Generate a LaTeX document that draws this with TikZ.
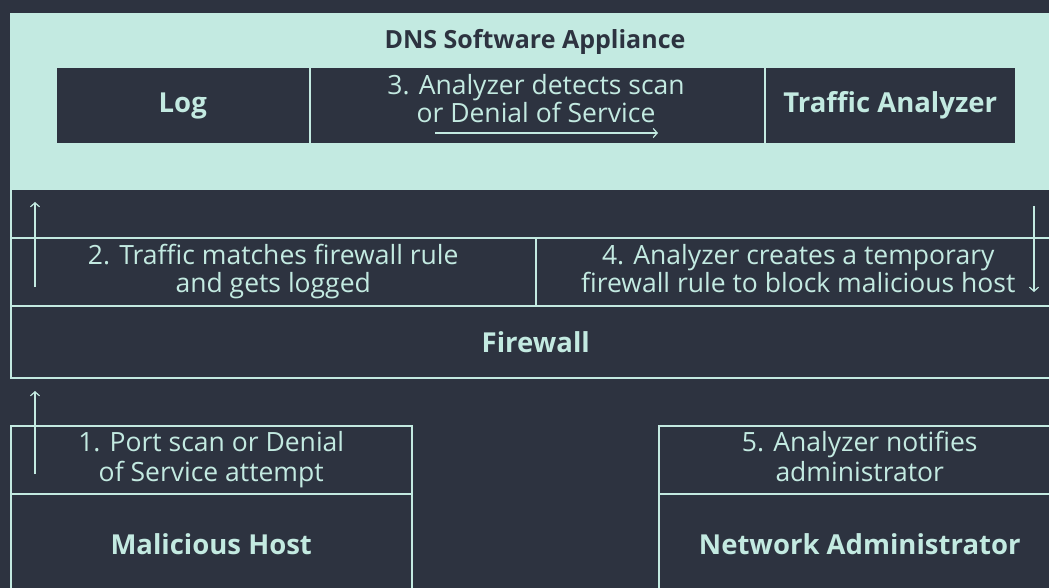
\documentclass[tikz,border=0pt]{standalone}
\usepackage{fontspec}
\setmainfont{Open Sans}
\usetikzlibrary{arrows.meta}
\definecolor{ink}{HTML}{2D3340}
\definecolor{mint}{HTML}{C3EAE1}
\begin{document}
\begin{tikzpicture}[x=1pt,y=-1pt,
  frame/.style={draw=mint, line width=1.5pt, inner sep=0pt, anchor=north west},
  steptext/.style={text=mint, font=\fontsize{26.5}{28.5}\selectfont, align=center},
  nametext/.style={text=mint, font=\fontsize{27.5}{30}\selectfont\bfseries},
  flow/.style={draw=mint, line width=1.2pt, -{Straight Barb[length=4pt,width=9pt]}}]
\useasboundingbox (0,0) rectangle (1049,588);
\fill[ink] (0,0) rectangle (1049,588);
\clip (0,0) rectangle (1049,588);

% DNS software appliance with its inner bar
\node[frame, fill=mint, minimum width=1060pt, minimum height=176pt] (appliance) at (10,13) {};
\node[text=ink, font=\fontsize{25}{28}\selectfont\bfseries] (title) at (535,42) {DNS Software Appliance};
\node[frame, fill=ink, minimum width=254pt, minimum height=76pt, nametext] (log) at (55,67) {Log};
\node[frame, fill=ink, minimum width=455pt, minimum height=76pt] (detect) at (309,67) {};
\node[steptext, font=\fontsize{26.5}{26}\selectfont] (detecttxt) at (536,98.5) {3. Analyzer detects scan\\or Denial of Service};
\node[frame, fill=ink, minimum width=251pt, minimum height=76pt, nametext] (analyzer) at (764,67) {Traffic Analyzer};

% band between appliance and firewall
\node[frame, minimum width=1060pt, minimum height=48pt] (gap) at (10,189) {};
\node[frame, minimum width=525pt, minimum height=68pt, steptext] (logged) at (10,237) {2. Traffic matches firewall rule\\and gets logged};
\node[frame, minimum width=525pt, minimum height=68pt, steptext] (rule) at (535,237) {4. Analyzer creates a temporary\\firewall rule to block malicious host\vphantom{g}};

% firewall
\node[frame, minimum width=1050pt, minimum height=72pt, nametext] (firewall) at (10,305) {Firewall};

% hosts
\node[frame, minimum width=401pt, minimum height=68pt, steptext, font=\fontsize{26.5}{30}\selectfont] (attempt) at (10,425) {1. Port scan or Denial\\of Service attempt};
\node[frame, minimum width=401pt, minimum height=100pt, nametext] (host) at (10,493) {Malicious Host};
\node[frame, minimum width=402pt, minimum height=68pt, steptext, font=\fontsize{26.5}{30}\selectfont] (notify) at (658,425) {5. Analyzer notifies\\administrator\vphantom{p}};
\node[frame, minimum width=402pt, minimum height=100pt, nametext] (admin) at (658,493) {Network Administrator};

% flow arrows
\coordinate (a1s) at (35,474);
\coordinate (a1e) at (35,391);
\coordinate (a2s) at (35,287);
\coordinate (a2e) at (35,202);
\coordinate (a3s) at (435,133);
\coordinate (a3e) at (658,133);
\coordinate (a4s) at (1034,206);
\coordinate (a4e) at (1034,292);
\draw[flow] (a1s) -- (a1e);
\draw[flow] (a2s) -- (a2e);
\draw[flow] (a3s) -- (a3e);
\draw[flow] (a4s) -- (a4e);
\end{tikzpicture}
\end{document}
